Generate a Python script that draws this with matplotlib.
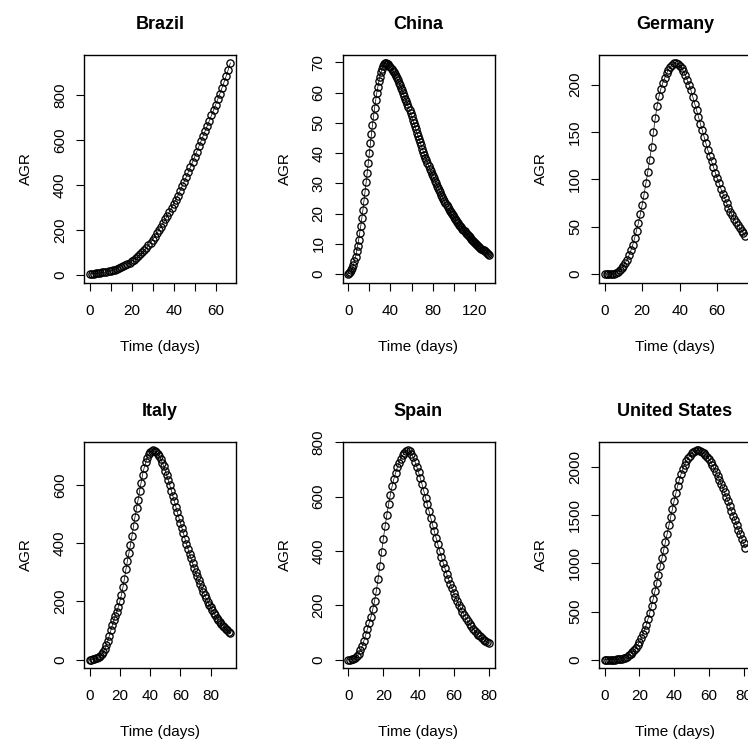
import numpy as np
import matplotlib.pyplot as plt
from matplotlib.ticker import MultipleLocator
from matplotlib.transforms import offset_copy

plt.rcParams['font.family'] = ['Liberation Sans', 'DejaVu Sans']

W, H = 748, 740

# absolute growth rate per day (day 0 onwards)
brazil = [4, 5, 6, 7, 8, 9, 11, 12, 14, 16, 19, 21, 24, 27, 31, 35, 39, 44, 49, 55,
          61, 68, 75, 83, 91, 100, 110, 120, 131, 143, 156, 170, 185, 200, 215, 231, 247, 264, 281, 298,
          316, 334, 353, 373, 394, 415, 436, 458, 480, 502, 525, 548, 571, 594, 617, 640, 663, 686, 709, 733,
          757, 781, 806, 831, 857, 884, 912, 942]

china = [0.0, 0.2, 0.6, 1.2, 2.0, 3.0, 4.3, 5.8, 7.5, 9.4,
         11.4, 13.6, 16.0, 18.6, 21.3, 24.2, 27.2, 30.3, 33.5, 36.8,
         40.0, 43.2, 46.3, 49.3, 52.2, 54.9, 57.4, 59.7, 61.8, 63.7,
         65.3, 66.7, 67.8, 68.7, 69.3, 69.7, 69.8, 69.6, 69.3, 68.9,
         68.4, 67.9, 67.3, 66.7, 66.1, 65.4, 64.7, 64.0, 63.2, 62.4,
         61.6, 60.7, 59.8, 58.9, 58.0, 57.1, 56.1, 55.1, 54.1, 53.1,
         52.1, 51.0, 50.0, 48.9, 47.9, 46.8, 45.7, 44.7, 43.6, 42.6,
         41.5, 40.5, 39.5, 38.5, 37.6, 36.7, 35.8, 34.9, 34.0, 33.2,
         32.4, 31.6, 30.8, 30.0, 29.2, 28.4, 27.7, 27.0, 26.2, 25.5,
         24.8, 24.2, 23.5, 22.9, 22.2, 21.6, 21.0, 20.5, 19.9, 19.4,
         18.8, 18.3, 17.8, 17.3, 16.8, 16.3, 15.9, 15.4, 15.0, 14.5,
         14.1, 13.7, 13.3, 12.9, 12.5, 12.1, 11.7, 11.3, 11.0, 10.6,
         10.3, 9.9, 9.6, 9.3, 9.0, 8.7, 8.4, 8.1, 7.8, 7.5,
         7.2, 6.9, 6.6, 6.3]

germany = [0, 0, 0, 0, 0, 0.5, 1, 2, 4, 6, 9, 12, 15, 20, 25, 31, 38, 46, 54, 63,
           73, 84, 96, 108, 121, 134, 150, 165, 178, 188, 196, 202, 207, 212, 216, 219, 221, 222.5, 223, 222,
           220, 218, 214, 210, 205, 200, 194, 187, 180, 173, 166, 159, 152, 145, 138, 131, 125, 119, 113, 107,
           101, 96, 90, 85, 80, 75, 70, 66, 62, 58, 55, 52, 49, 46, 43, 40]

italy = [0, 0, 1, 2, 4, 6, 9, 13, 19, 27, 37, 50, 65, 82, 100, 118, 135, 150, 165, 182,
         200, 222, 248, 278, 310, 340, 367, 395, 425, 458, 490, 520, 548, 578, 607, 635, 658, 677, 692, 704,
         712, 717, 718, 716, 712, 706, 698, 688, 676, 663, 648, 632, 615, 598, 580, 562, 543, 524, 505, 487,
         469, 451, 433, 415, 397, 380, 363, 347, 331, 315, 300, 286, 272, 259, 246, 233, 221, 210, 199, 189,
         179, 170, 161, 152, 144, 137, 130, 123, 117, 111, 105, 100, 95, 90]

spain = [0, 0, 1, 3, 7, 13, 22, 34, 50, 70, 92, 114, 136, 158, 185, 215, 252, 295, 345, 397,
         445, 490, 533, 572, 607, 638, 665, 688, 708, 725, 740, 752, 762, 768, 770, 766, 757, 744, 728, 710,
         690, 668, 645, 621, 596, 571, 546, 521, 496, 472, 448, 424, 401, 379, 357, 336, 316, 297, 279, 262,
         246, 231, 216, 202, 189, 176, 164, 153, 142, 132, 123, 114, 106, 99, 92, 86, 80, 74, 69, 64, 60]

usa = [0, 0, 0, 0, 0, 0, 1, 2, 3, 5, 8, 13, 20, 30, 43, 58, 77, 100, 125, 152,
       185, 220, 262, 310, 365, 425, 490, 560, 635, 715, 800, 885, 970, 1055, 1140, 1225, 1310, 1395, 1480, 1565,
       1650, 1730, 1805, 1870, 1930, 1980, 2025, 2062, 2095, 2122, 2145, 2160, 2170, 2175, 2176, 2172, 2163, 2150,
       2132, 2110, 2085, 2056, 2024, 1990, 1953, 1914, 1873, 1830, 1786, 1740, 1693, 1645, 1596, 1547, 1498, 1449,
       1400, 1351, 1303, 1255, 1208, 1162]

countries = ["Brazil", "China", "Germany", "Italy", "Spain", "United States"]
series = [brazil, china, germany, italy, spain, usa]
y_steps = [200, 10, 50, 200, 200, 500]
x_steps = [10, 20, 20, 20, 20, 20]
x_label_every = [20, 40, 20, 20, 20, 20]

col_left = [84, 342.5, 599]
row_top = [54.5, 442]
row_h = [228, 226]
box_w = 152

fig = plt.figure(figsize=(W / 100, H / 100), dpi=100)

for i, (name, vals) in enumerate(zip(countries, series)):
    r, c = divmod(i, 3)
    left, top, h = col_left[c], row_top[r], row_h[r]
    ax = fig.add_axes([left / W, 1 - (top + h) / H, box_w / W, h / H])
    days = np.arange(len(vals))
    ax.plot(days, vals, color='black', lw=0.5, marker='o', ms=5.2, mfc='none',
            mec='black', mew=0.95)
    ax.margins(0.04)
    ax.xaxis.set_major_locator(MultipleLocator(x_steps[i]))
    ax.yaxis.set_major_locator(MultipleLocator(y_steps[i]))
    ax.tick_params(direction='out', length=5.8, width=0.8, labelsize=11, colors='black')
    ax.tick_params(axis='x', pad=9.5)
    ax.tick_params(axis='y', pad=6.5)
    for s in ax.spines.values():
        s.set_linewidth(1.0)
    plt.setp(ax.get_yticklabels(), rotation=90, va='center')
    # R drops labels that would overlap, so only some ticks carry one
    every = x_label_every[i]
    ax.xaxis.set_major_formatter(plt.FuncFormatter(
        lambda v, p, e=every: '%d' % v if int(round(v)) % e == 0 else ''))
    # title, axis labels placed like R's margin lines
    t = offset_copy(ax.transAxes, fig=fig, y=25.5, units='dots')
    ax.text(0.5, 1, name, transform=t, ha='center', va='baseline',
            fontsize=13, fontweight='bold')
    t = offset_copy(ax.transAxes, fig=fig, y=-68, units='dots')
    ax.text(0.5, 0, "Time (days)", transform=t, ha='center', va='baseline', fontsize=11)
    t = offset_copy(ax.transAxes, fig=fig, x=-58, units='dots')
    ax.text(0, 0.5, "AGR", transform=t, ha='center', va='center', rotation=90, fontsize=11)

plt.savefig("out.png", dpi=100)
